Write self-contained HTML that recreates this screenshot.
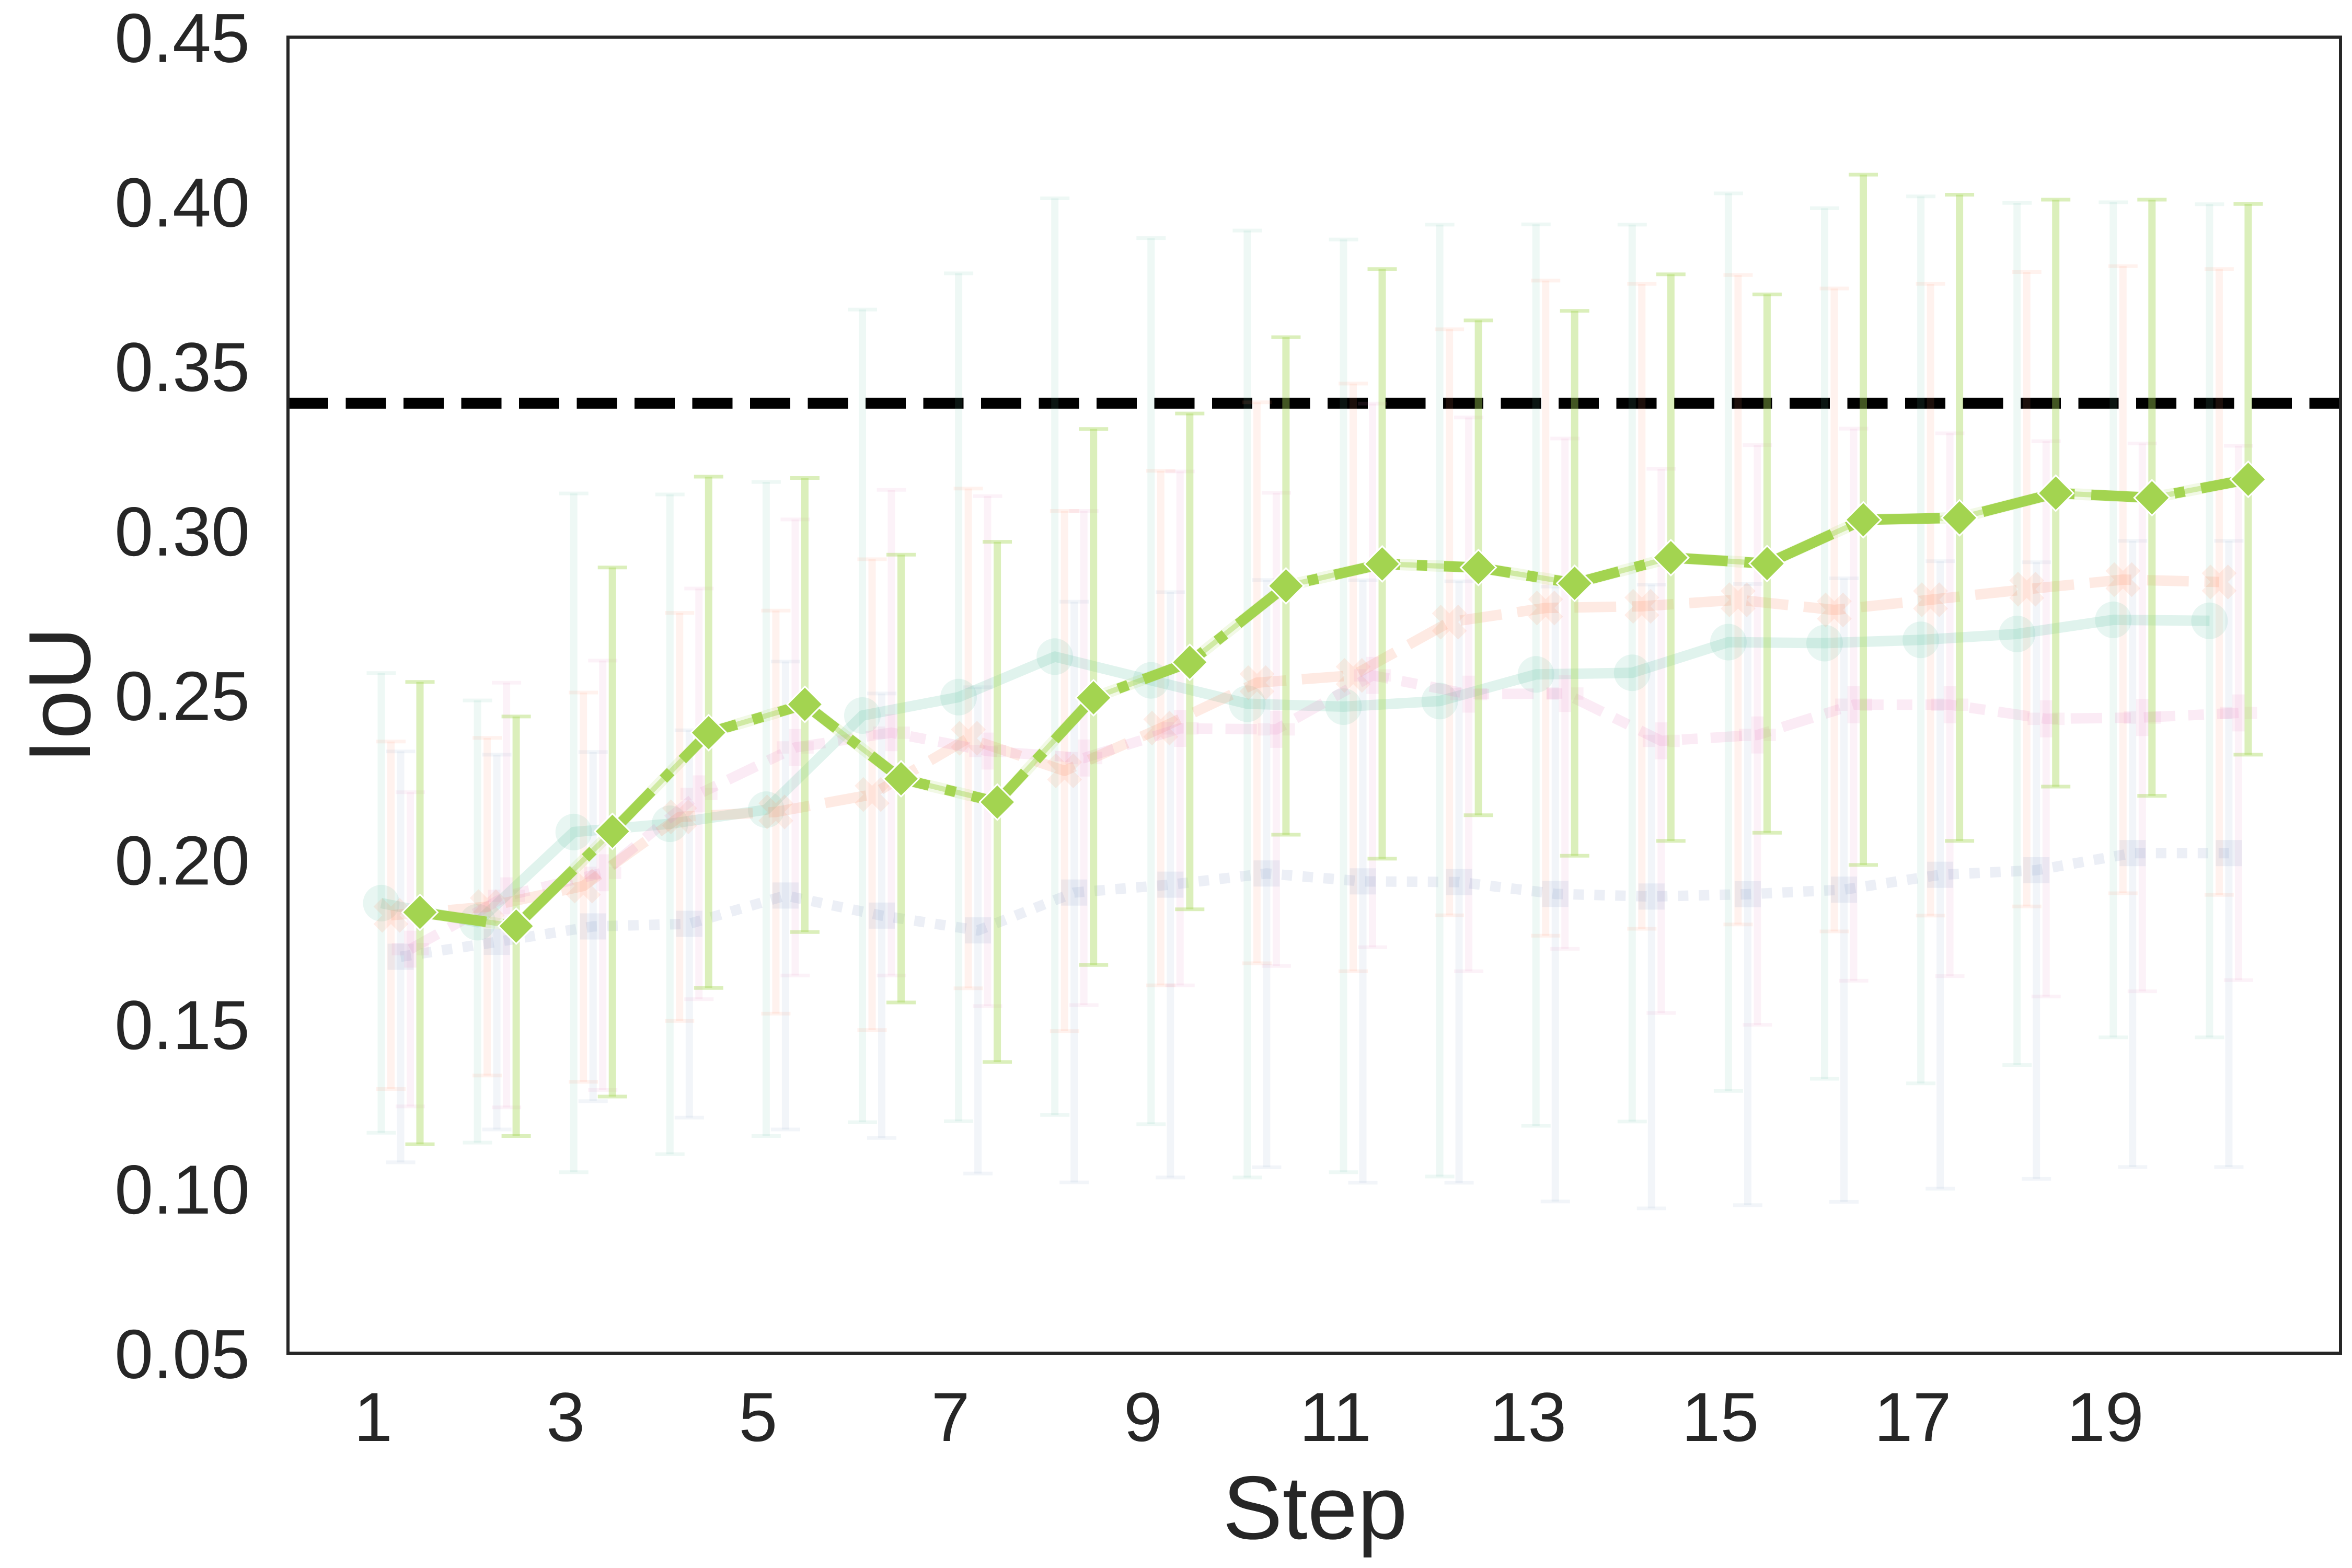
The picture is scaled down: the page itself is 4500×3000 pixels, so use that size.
<!DOCTYPE html>
<html>
<head>
<meta charset="utf-8">
<style>
html,body{margin:0;padding:0;background:#fff;}
svg{display:block;}
text{font-family:"Liberation Sans",Arial,sans-serif;fill:#262626;}
</style>
</head>
<body>
<svg width="4500" height="3000" viewBox="0 0 4500 3000" xmlns="http://www.w3.org/2000/svg">
<defs>
  <circle id="mo" cx="0" cy="0" r="35"/>
  <polygon id="mx" transform="rotate(45)" points="-11.8,-35.4 11.8,-35.4 11.8,-11.8 35.4,-11.8 35.4,11.8 11.8,11.8 11.8,35.4 -11.8,35.4 -11.8,11.8 -35.4,11.8 -35.4,-11.8 -11.8,-11.8"/>
  <rect id="ms" x="-25" y="-25" width="50" height="50"/>
  <polygon id="mp" points="-11.8,-35.4 11.8,-35.4 11.8,-11.8 35.4,-11.8 35.4,11.8 11.8,11.8 11.8,35.4 -11.8,35.4 -11.8,11.8 -35.4,11.8 -35.4,-11.8 -11.8,-11.8"/>
  <polygon id="md" points="0,-34 34,0 0,34 -34,0"/>
</defs>
<rect x="0" y="0" width="4500" height="3000" fill="#fff"/>

<!-- reference dashed line -->
<line x1="551" y1="771.4" x2="4478" y2="771.4" stroke="#000" stroke-width="21" stroke-dasharray="77 33.5"/>

<!-- ===== faint error bars ===== -->
<g transform="translate(21.5,0)" stroke="#66c2a5" stroke-opacity="0.11" fill="none">
<path stroke-width="14" d="M708 1287.8V2167.2M892.1 1340.1V2186.1M1076.2 944.1V2242.8M1260.3 946V2208.2M1444.4 922.1V2173.5M1628.5 592.2V2147.1M1812.6 523V2145.2M1996.7 379.5V2133.3M2180.8 455.6V2150.9M2364.9 441.1V2252.9M2549 458.2V2242.8M2733.1 429.8V2251M2917.2 429.2V2154M3101.3 429.8V2145.8M3285.4 370V2087.3M3469.5 398.4V2064M3653.6 375.7V2072.8M3837.7 388.3V2037.6M4021.8 387V1984.7M4205.9 390.8V1984.7"/>
<path stroke-width="7" d="M680 1287.8h56M680 2167.2h56M864.1 1340.1h56M864.1 2186.1h56M1048.2 944.1h56M1048.2 2242.8h56M1232.3 946h56M1232.3 2208.2h56M1416.4 922.1h56M1416.4 2173.5h56M1600.5 592.2h56M1600.5 2147.1h56M1784.6 523h56M1784.6 2145.2h56M1968.7 379.5h56M1968.7 2133.3h56M2152.8 455.6h56M2152.8 2150.9h56M2336.9 441.1h56M2336.9 2252.9h56M2521 458.2h56M2521 2242.8h56M2705.1 429.8h56M2705.1 2251h56M2889.2 429.2h56M2889.2 2154h56M3073.3 429.8h56M3073.3 2145.8h56M3257.4 370h56M3257.4 2087.3h56M3441.5 398.4h56M3441.5 2064h56M3625.6 375.7h56M3625.6 2072.8h56M3809.7 388.3h56M3809.7 2037.6h56M3993.8 387h56M3993.8 1984.7h56M4177.9 390.8h56M4177.9 1984.7h56"/>
</g>
<g transform="translate(40,0)" stroke="#fc8d62" stroke-opacity="0.11" fill="none">
<path stroke-width="14" d="M708 1418.8V2083.5M892.1 1411.8V2057.7M1076.2 1325V2069.7M1260.3 1172.6V1953.2M1444.4 1168.2V1939.4M1628.5 1070V1970.8M1812.6 934.7V1890.9M1996.7 977.5V1972.7M2180.8 900.7V1885.2M2364.9 769.8V1843M2549 733.9V1858.2M2733.1 630V1751.2M2917.2 536.9V1790.2M3101.3 543.1V1777M3285.4 526.2V1768.8M3469.5 552V1782M3653.6 543.1V1751.8M3837.7 520.5V1734.2M4021.8 509.2V1709M4205.9 514.8V1712.1"/>
<path stroke-width="7" d="M680 1418.8h56M680 2083.5h56M864.1 1411.8h56M864.1 2057.7h56M1048.2 1325h56M1048.2 2069.7h56M1232.3 1172.6h56M1232.3 1953.2h56M1416.4 1168.2h56M1416.4 1939.4h56M1600.5 1070h56M1600.5 1970.8h56M1784.6 934.7h56M1784.6 1890.9h56M1968.7 977.5h56M1968.7 1972.7h56M2152.8 900.7h56M2152.8 1885.2h56M2336.9 769.8h56M2336.9 1843h56M2521 733.9h56M2521 1858.2h56M2705.1 630h56M2705.1 1751.2h56M2889.2 536.9h56M2889.2 1790.2h56M3073.3 543.1h56M3073.3 1777h56M3257.4 526.2h56M3257.4 1768.8h56M3441.5 552h56M3441.5 1782h56M3625.6 543.1h56M3625.6 1751.8h56M3809.7 520.5h56M3809.7 1734.2h56M3993.8 509.2h56M3993.8 1709h56M4177.9 514.8h56M4177.9 1712.1h56"/>
</g>
<g transform="translate(58.5,0)" stroke="#8da0cb" stroke-opacity="0.11" fill="none">
<path stroke-width="14" d="M708 1437.6V2223.9M892.1 1443.9V2161M1076.2 1438.9V2106.8M1260.3 1397.3V2138.3M1444.4 1265.8V2161M1628.5 1326.9V2177.3M1812.6 1314.9V2245.3M1996.7 1151.2V2262.3M2180.8 1133V2252.9M2364.9 1109.7V2233.3M2549 1110.3V2262.9M2733.1 1112.2V2262.9M2917.2 1122.3V2298.8M3101.3 1118.5V2312M3285.4 1117.2V2305.7M3469.5 1106.5V2299.4M3653.6 1073.8V2274.2M3837.7 1075.7V2255.4M4021.8 1034.8V2232.7M4205.9 1034.8V2232.7"/>
<path stroke-width="7" d="M680 1437.6h56M680 2223.9h56M864.1 1443.9h56M864.1 2161h56M1048.2 1438.9h56M1048.2 2106.8h56M1232.3 1397.3h56M1232.3 2138.3h56M1416.4 1265.8h56M1416.4 2161h56M1600.5 1326.9h56M1600.5 2177.3h56M1784.6 1314.9h56M1784.6 2245.3h56M1968.7 1151.2h56M1968.7 2262.3h56M2152.8 1133h56M2152.8 2252.9h56M2336.9 1109.7h56M2336.9 2233.3h56M2521 1110.3h56M2521 2262.9h56M2705.1 1112.2h56M2705.1 2262.9h56M2889.2 1122.3h56M2889.2 2298.8h56M3073.3 1118.5h56M3073.3 2312h56M3257.4 1117.2h56M3257.4 2305.7h56M3441.5 1106.5h56M3441.5 2299.4h56M3625.6 1073.8h56M3625.6 2274.2h56M3809.7 1075.7h56M3809.7 2255.4h56M3993.8 1034.8h56M3993.8 2232.7h56M4177.9 1034.8h56M4177.9 2232.7h56"/>
</g>
<g transform="translate(77,0)" stroke="#e78ac3" stroke-opacity="0.11" fill="none">
<path stroke-width="14" d="M708 1515.7V2116.9M892.1 1306.1V2118.8M1076.2 1263.9V2085.4M1260.3 1126V1911.7M1444.4 993.9V1866.4M1628.5 937.2V1866.4M1812.6 949.2V1924.9M1996.7 977.5V1923M2180.8 902V1885.2M2364.9 942.9V1848.1M2549 772.3V1812.2M2733.1 798.7V1858.2M2917.2 839V1815.4M3101.3 897V1938.1M3285.4 851.6V1960.8M3469.5 820.1V1876.4M3653.6 829V1867.6M3837.7 844.1V1906.6M4021.8 848.5V1896.6M4205.9 852.9V1875.2"/>
<path stroke-width="7" d="M680 1515.7h56M680 2116.9h56M864.1 1306.1h56M864.1 2118.8h56M1048.2 1263.9h56M1048.2 2085.4h56M1232.3 1126h56M1232.3 1911.7h56M1416.4 993.9h56M1416.4 1866.4h56M1600.5 937.2h56M1600.5 1866.4h56M1784.6 949.2h56M1784.6 1924.9h56M1968.7 977.5h56M1968.7 1923h56M2152.8 902h56M2152.8 1885.2h56M2336.9 942.9h56M2336.9 1848.1h56M2521 772.3h56M2521 1812.2h56M2705.1 798.7h56M2705.1 1858.2h56M2889.2 839h56M2889.2 1815.4h56M3073.3 897h56M3073.3 1938.1h56M3257.4 851.6h56M3257.4 1960.8h56M3441.5 820.1h56M3441.5 1876.4h56M3625.6 829h56M3625.6 1867.6h56M3809.7 844.1h56M3809.7 1906.6h56M3993.8 848.5h56M3993.8 1896.6h56M4177.9 852.9h56M4177.9 1875.2h56"/>
</g>

<!-- ===== faint lines + markers ===== -->
<g transform="translate(21.5,0)">
<g fill="#66c2a5" fill-opacity="0.15">
<use href="#mo" x="708" y="1727.9"/><use href="#mo" x="892.1" y="1764.4"/><use href="#mo" x="1076.2" y="1591.9"/><use href="#mo" x="1260.3" y="1576.1"/><use href="#mo" x="1444.4" y="1549.1"/><use href="#mo" x="1628.5" y="1369"/><use href="#mo" x="1812.6" y="1333.8"/><use href="#mo" x="1996.7" y="1256.3"/><use href="#mo" x="2180.8" y="1301.7"/><use href="#mo" x="2364.9" y="1346.4"/><use href="#mo" x="2549" y="1352"/><use href="#mo" x="2733.1" y="1341.3"/><use href="#mo" x="2917.2" y="1290.3"/><use href="#mo" x="3101.3" y="1287.2"/><use href="#mo" x="3285.4" y="1228.6"/><use href="#mo" x="3469.5" y="1230.5"/><use href="#mo" x="3653.6" y="1224.2"/><use href="#mo" x="3837.7" y="1212.9"/><use href="#mo" x="4021.8" y="1185.9"/><use href="#mo" x="4205.9" y="1187.8"/>
</g>
<polyline fill="none" stroke="#66c2a5" stroke-opacity="0.2" stroke-width="20" stroke-linejoin="round" points="708,1727.9 892.1,1764.4 1076.2,1591.9 1260.3,1576.1 1444.4,1549.1 1628.5,1369 1812.6,1333.8 1996.7,1256.3 2180.8,1301.7 2364.9,1346.4 2549,1352 2733.1,1341.3 2917.2,1290.3 3101.3,1287.2 3285.4,1228.6 3469.5,1230.5 3653.6,1224.2 3837.7,1212.9 4021.8,1185.9 4205.9,1187.8"/>
</g>
<g transform="translate(40,0)">
<g fill="#fc8d62" fill-opacity="0.14">
<use href="#mx" x="708" y="1751.2"/><use href="#mx" x="892.1" y="1734.8"/><use href="#mx" x="1076.2" y="1695.1"/><use href="#mx" x="1260.3" y="1562.9"/><use href="#mx" x="1444.4" y="1553.5"/><use href="#mx" x="1628.5" y="1520.1"/><use href="#mx" x="1812.6" y="1412.5"/><use href="#mx" x="1996.7" y="1474.8"/><use href="#mx" x="2180.8" y="1393"/><use href="#mx" x="2364.9" y="1306.1"/><use href="#mx" x="2549" y="1292.2"/><use href="#mx" x="2733.1" y="1190.3"/><use href="#mx" x="2917.2" y="1163.2"/><use href="#mx" x="3101.3" y="1160"/><use href="#mx" x="3285.4" y="1147.5"/><use href="#mx" x="3469.5" y="1167"/><use href="#mx" x="3653.6" y="1147.5"/><use href="#mx" x="3837.7" y="1127.3"/><use href="#mx" x="4021.8" y="1109"/><use href="#mx" x="4205.9" y="1113.5"/>
</g>
<polyline fill="none" stroke="#fc8d62" stroke-opacity="0.18" stroke-width="20" stroke-linejoin="round" stroke-dasharray="80 30" points="708,1751.2 892.1,1734.8 1076.2,1695.1 1260.3,1562.9 1444.4,1553.5 1628.5,1520.1 1812.6,1412.5 1996.7,1474.8 2180.8,1393 2364.9,1306.1 2549,1292.2 2733.1,1190.3 2917.2,1163.2 3101.3,1160 3285.4,1147.5 3469.5,1167 3653.6,1147.5 3837.7,1127.3 4021.8,1109 4205.9,1113.5"/>
</g>
<g transform="translate(58.5,0)">
<g fill="#8da0cb" fill-opacity="0.15">
<use href="#ms" x="708" y="1830.5"/><use href="#ms" x="892.1" y="1802.1"/><use href="#ms" x="1076.2" y="1772.5"/><use href="#ms" x="1260.3" y="1767.5"/><use href="#ms" x="1444.4" y="1713.4"/><use href="#ms" x="1628.5" y="1751.8"/><use href="#ms" x="1812.6" y="1780.1"/><use href="#ms" x="1996.7" y="1707.7"/><use href="#ms" x="2180.8" y="1692.6"/><use href="#ms" x="2364.9" y="1671.2"/><use href="#ms" x="2549" y="1686.3"/><use href="#ms" x="2733.1" y="1687.6"/><use href="#ms" x="2917.2" y="1710.2"/><use href="#ms" x="3101.3" y="1715.3"/><use href="#ms" x="3285.4" y="1710.8"/><use href="#ms" x="3469.5" y="1702.1"/><use href="#ms" x="3653.6" y="1673.7"/><use href="#ms" x="3837.7" y="1664.9"/><use href="#ms" x="4021.8" y="1632.2"/><use href="#ms" x="4205.9" y="1632.2"/>
</g>
<polyline fill="none" stroke="#8da0cb" stroke-opacity="0.17" stroke-width="20" stroke-linejoin="round" stroke-dasharray="20 20" points="708,1830.5 892.1,1802.1 1076.2,1772.5 1260.3,1767.5 1444.4,1713.4 1628.5,1751.8 1812.6,1780.1 1996.7,1707.7 2180.8,1692.6 2364.9,1671.2 2549,1686.3 2733.1,1687.6 2917.2,1710.2 3101.3,1715.3 3285.4,1710.8 3469.5,1702.1 3653.6,1673.7 3837.7,1664.9 4021.8,1632.2 4205.9,1632.2"/>
</g>
<g transform="translate(77,0)">
<g fill="#e78ac3" fill-opacity="0.13">
<use href="#mp" x="708" y="1816"/><use href="#mp" x="892.1" y="1714"/><use href="#mp" x="1076.2" y="1669.9"/><use href="#mp" x="1260.3" y="1518.9"/><use href="#mp" x="1444.4" y="1430.1"/><use href="#mp" x="1628.5" y="1401.8"/><use href="#mp" x="1812.6" y="1437"/><use href="#mp" x="1996.7" y="1450.3"/><use href="#mp" x="2180.8" y="1393.6"/><use href="#mp" x="2364.9" y="1395.5"/><use href="#mp" x="2549" y="1292.2"/><use href="#mp" x="2733.1" y="1328.1"/><use href="#mp" x="2917.2" y="1326.9"/><use href="#mp" x="3101.3" y="1417.5"/><use href="#mp" x="3285.4" y="1406.2"/><use href="#mp" x="3469.5" y="1348.3"/><use href="#mp" x="3653.6" y="1348.3"/><use href="#mp" x="3837.7" y="1375.3"/><use href="#mp" x="4021.8" y="1372.8"/><use href="#mp" x="4205.9" y="1364"/>
</g>
<polyline fill="none" stroke="#e78ac3" stroke-opacity="0.17" stroke-width="20" stroke-linejoin="round" stroke-dasharray="60 25 30 25" points="708,1816 892.1,1714 1076.2,1669.9 1260.3,1518.9 1444.4,1430.1 1628.5,1401.8 1812.6,1437 1996.7,1450.3 2180.8,1393.6 2364.9,1395.5 2549,1292.2 2733.1,1328.1 2917.2,1326.9 3101.3,1417.5 3285.4,1406.2 3469.5,1348.3 3653.6,1348.3 3837.7,1375.3 4021.8,1372.8 4205.9,1364"/>
</g>

<!-- ===== highlighted green series ===== -->
<g transform="translate(95.5,0)">
<g stroke="#a6d854" stroke-opacity="0.4" fill="none">
<path stroke-width="14" d="M708 1304.8V2189.3M892.1 1370.9V2173.5M1076.2 1085.8V2098M1260.3 912V1890.3M1444.4 914.5V1783.2M1628.5 1061.2V1918M1812.6 1036.6V2031.9M1996.7 820.8V1846.2M2180.8 791.1V1739.8M2364.9 645.1V1597M2549 514.8V1642.9M2733.1 613V1559.8M2917.2 594.7V1637.2M3101.3 524.9V1608.9M3285.4 563.3V1593.2M3469.5 334.1V1654.9M3653.6 372.5V1608.9M3837.7 382V1505M4021.8 382V1522.6M4205.9 390.2V1443.9"/>
<path stroke-width="7" d="M680 1304.8h56M680 2189.3h56M864.1 1370.9h56M864.1 2173.5h56M1048.2 1085.8h56M1048.2 2098h56M1232.3 912h56M1232.3 1890.3h56M1416.4 914.5h56M1416.4 1783.2h56M1600.5 1061.2h56M1600.5 1918h56M1784.6 1036.6h56M1784.6 2031.9h56M1968.7 820.8h56M1968.7 1846.2h56M2152.8 791.1h56M2152.8 1739.8h56M2336.9 645.1h56M2336.9 1597h56M2521 514.8h56M2521 1642.9h56M2705.1 613h56M2705.1 1559.8h56M2889.2 594.7h56M2889.2 1637.2h56M3073.3 524.9h56M3073.3 1608.9h56M3257.4 563.3h56M3257.4 1593.2h56M3441.5 334.1h56M3441.5 1654.9h56M3625.6 372.5h56M3625.6 1608.9h56M3809.7 382h56M3809.7 1505h56M3993.8 382h56M3993.8 1522.6h56M4177.9 390.2h56M4177.9 1443.9h56"/>
</g>
<polyline fill="none" stroke="#a6d854" stroke-opacity="0.15" stroke-width="22" stroke-linejoin="round" points="708,1745.5 892.1,1771.9 1076.2,1590.6 1260.3,1401.8 1444.4,1347.6 1628.5,1489.9 1812.6,1534.6 1996.7,1335 2180.8,1267.1 2364.9,1121 2549,1078.9 2733.1,1085.8 2917.2,1116 3101.3,1066.9 3285.4,1078.2 3469.5,994.5 3653.6,990.7 3837.7,943.5 4021.8,952.3 4205.9,917.1"/>
<polyline fill="none" stroke="#a6d854" stroke-opacity="0.45" stroke-width="10" stroke-linejoin="round" points="708,1745.5 892.1,1771.9 1076.2,1590.6 1260.3,1401.8 1444.4,1347.6 1628.5,1489.9 1812.6,1534.6 1996.7,1335 2180.8,1267.1 2364.9,1121 2549,1078.9 2733.1,1085.8 2917.2,1116 3101.3,1066.9 3285.4,1078.2 3469.5,994.5 3653.6,990.7 3837.7,943.5 4021.8,952.3 4205.9,917.1"/>
<polyline fill="none" stroke="#a3d450" stroke-width="20" stroke-linejoin="round" stroke-dasharray="128 32 20 32" points="708,1745.5 892.1,1771.9 1076.2,1590.6 1260.3,1401.8 1444.4,1347.6 1628.5,1489.9 1812.6,1534.6 1996.7,1335 2180.8,1267.1 2364.9,1121 2549,1078.9 2733.1,1085.8 2917.2,1116 3101.3,1066.9 3285.4,1078.2 3469.5,994.5 3653.6,990.7 3837.7,943.5 4021.8,952.3 4205.9,917.1"/>
<g fill="#a3d450" stroke="#ffffff" stroke-width="3">
<use href="#md" x="708" y="1745.5"/><use href="#md" x="892.1" y="1771.9"/><use href="#md" x="1076.2" y="1590.6"/><use href="#md" x="1260.3" y="1401.8"/><use href="#md" x="1444.4" y="1347.6"/><use href="#md" x="1628.5" y="1489.9"/><use href="#md" x="1812.6" y="1534.6"/><use href="#md" x="1996.7" y="1335"/><use href="#md" x="2180.8" y="1267.1"/><use href="#md" x="2364.9" y="1121"/><use href="#md" x="2549" y="1078.9"/><use href="#md" x="2733.1" y="1085.8"/><use href="#md" x="2917.2" y="1116"/><use href="#md" x="3101.3" y="1066.9"/><use href="#md" x="3285.4" y="1078.2"/><use href="#md" x="3469.5" y="994.5"/><use href="#md" x="3653.6" y="990.7"/><use href="#md" x="3837.7" y="943.5"/><use href="#md" x="4021.8" y="952.3"/><use href="#md" x="4205.9" y="917.1"/>
</g>
</g>

<!-- axes frame -->
<rect x="551" y="71" width="3927" height="2518" fill="none" stroke="#262626" stroke-width="6"/>

<!-- y tick labels -->
<g font-size="133" text-anchor="end">
<text x="478" y="118.6">0.45</text>
<text x="478" y="433.4">0.40</text>
<text x="478" y="748.1">0.35</text>
<text x="478" y="1062.9">0.30</text>
<text x="478" y="1377.6">0.25</text>
<text x="478" y="1692.4">0.20</text>
<text x="478" y="2007.1">0.15</text>
<text x="478" y="2321.9">0.10</text>
<text x="478" y="2636.6">0.05</text>
</g>

<!-- x tick labels -->
<g font-size="133" text-anchor="middle">
<text x="714" y="2757">1</text>
<text x="1082.2" y="2757">3</text>
<text x="1450.4" y="2757">5</text>
<text x="1818.6" y="2757">7</text>
<text x="2186.8" y="2757">9</text>
<text x="2555" y="2757">11</text>
<text x="2923.2" y="2757">13</text>
<text x="3291.4" y="2757">15</text>
<text x="3659.6" y="2757">17</text>
<text x="4027.8" y="2757">19</text>
</g>

<!-- axis labels -->
<text x="2516" y="2944" font-size="172" text-anchor="middle">Step</text>
<text transform="translate(172,1330) rotate(-90)" x="0" y="0" font-size="168" text-anchor="middle">IoU</text>
</svg>
</body>
</html>
